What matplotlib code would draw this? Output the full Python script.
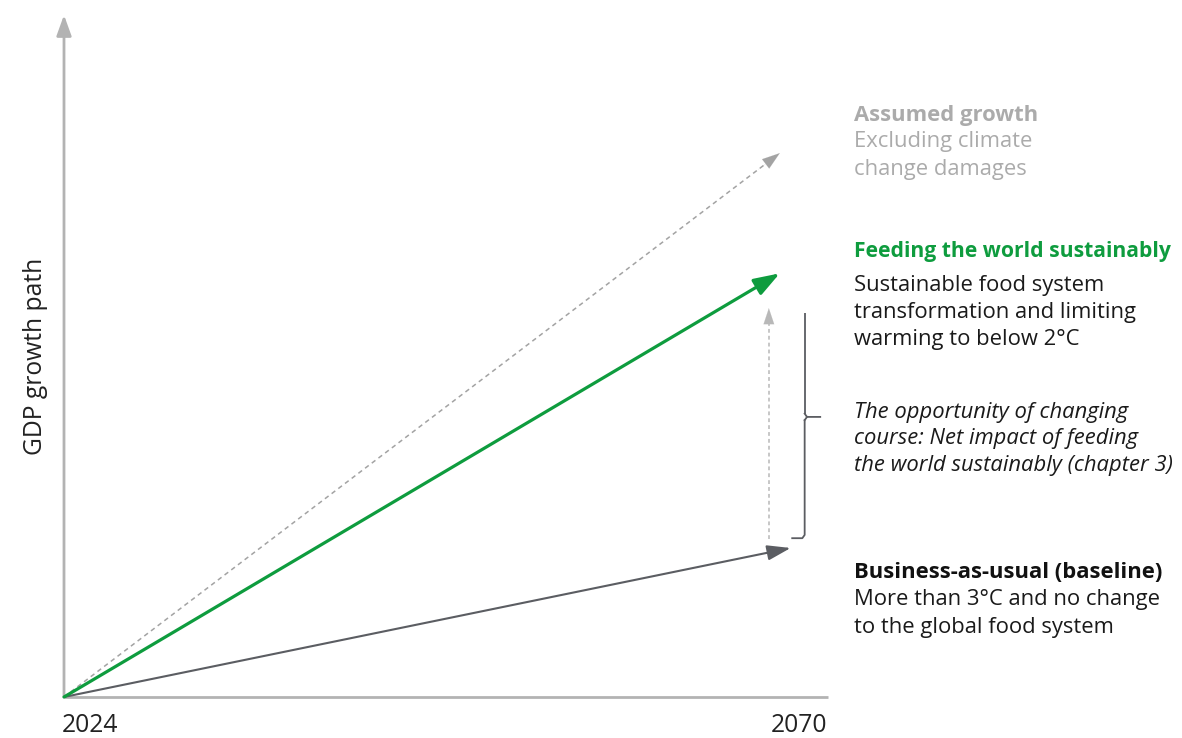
import matplotlib
matplotlib.use("Agg")
import matplotlib.pyplot as plt

plt.rcParams['font.family'] = ['Open Sans', 'DejaVu Sans']

# ---- data (schematic GDP index, 2024 = 0) ----
years = [2024, 2070]
assumed = [0, 100.0]
sustainable = [0, 77.9]
baseline = [0, 27.4]
gap_low, gap_high = 29.0, 71.5          # net-impact arrow span
bracket_low, bracket_mid, bracket_high = 29.2, 51.5, 70.6  # bracket span
gap_year = 2069.3
bracket_year = 2071.6
xmax, ymax = 2073.1, 125.4

W, H = 1182, 738
fig = plt.figure(figsize=(W / 100, H / 100), dpi=100)
ax = fig.add_axes([64 / W, (H - 697) / H, (828 - 64) / W, (697 - 15) / H])
ax.set_xlim(years[0], xmax)
ax.set_ylim(0, ymax)
ax.axis('off')

GREEN = '#0e9c3e'
DARK = '#5b5d62'
LIGHT = '#a3a3a3'
LIGHTER = '#b8b8b8'
AXIS = '#b3b3b3'

# axes lines
ax.plot([years[0], xmax], [0, 0], color=AXIS, lw=2.0, solid_capstyle='butt', clip_on=False, zorder=1)
ax.annotate('', xy=(years[0], ymax), xytext=(years[0], 0),
            arrowprops=dict(arrowstyle='-|>,head_length=1.25,head_width=0.45', color=AXIS, lw=2.0,
                            shrinkA=0, shrinkB=0, mutation_scale=10), annotation_clip=False, zorder=1)

def dashed_arrow(x0, y0, x1, y1, color, lw, dash=(3, 2.5), ms=9.5):
    ax.plot([x0, x1 - (x1 - x0) * 0.02], [y0, y1 - (y1 - y0) * 0.02], color=color, lw=lw,
            ls=(0, dash), clip_on=False, zorder=2)
    ax.annotate('', xy=(x1, y1), xytext=(x1 - (x1 - x0) * 0.03, y1 - (y1 - y0) * 0.03),
                arrowprops=dict(arrowstyle='-|>,head_length=1.2,head_width=0.4', color=color, lw=0.1,
                                shrinkA=0, shrinkB=0, mutation_scale=ms), annotation_clip=False, zorder=2)

# assumed growth (dashed)
dashed_arrow(years[0], assumed[0], years[1], assumed[1], LIGHT, 1.1, ms=10.5)

# baseline
ax.annotate('', xy=(years[1] + 0.7, baseline[1]), xytext=(years[0], baseline[0]),
            arrowprops=dict(arrowstyle='-|>,head_length=1.3,head_width=0.42', color=DARK, lw=1.5,
                            shrinkA=0, shrinkB=0, mutation_scale=11), annotation_clip=False, zorder=3)

# sustainable (green)
ax.annotate('', xy=(years[1], sustainable[1]), xytext=(years[0], sustainable[0]),
            arrowprops=dict(arrowstyle='-|>,head_length=1.3,head_width=0.45', color=GREEN, lw=2.3,
                            shrinkA=0, shrinkB=0, mutation_scale=12), annotation_clip=False, zorder=4)

# vertical dashed arrow (net impact)
dashed_arrow(gap_year, gap_low, gap_year, gap_high, LIGHTER, 1.1, dash=(2.5, 2))

# bracket
bx = bracket_year
mid = bracket_mid
ax.plot([bx, bx], [bracket_high, mid + 0.6], color=DARK, lw=1.3, clip_on=False, solid_capstyle='butt')
ax.plot([bx, bx + 0.15, bx + 1.0], [mid + 0.6, mid, mid], color=DARK, lw=1.3, clip_on=False)
ax.plot([bx + 0.15, bx], [mid, mid - 0.6], color=DARK, lw=1.3, clip_on=False)
ax.plot([bx, bx, bx - 0.15, bx - 0.8], [mid - 0.6, bracket_low + 0.6, bracket_low, bracket_low],
        color=DARK, lw=1.3, clip_on=False)

# text helpers
def ftext(x, y, s, **kw):
    fig.text(x / W, 1 - y / H, s, **kw)

AFS = 17.7
FS = 15.8
ftext(62, 726, '2024', fontsize=AFS, color='#222222', ha='left', va='center')
ftext(827, 726, '2070', fontsize=AFS, color='#222222', ha='right', va='center')
ftext(36, 356, 'GDP growth path', fontsize=AFS, color='#222222', ha='center', va='center', rotation=90)

X0 = 854
ftext(X0, 115, 'Assumed growth', fontsize=FS, color='#ababab', fontweight='bold', va='center')
ftext(X0, 142, 'Excluding climate', fontsize=FS, color='#ababab', va='center')
ftext(X0, 169, 'change damages', fontsize=FS, color='#ababab', va='center')

ftext(X0, 251, 'Feeding the world sustainably', fontsize=15.2, color=GREEN, fontweight='bold', va='center')
ftext(X0, 285, 'Sustainable food system', fontsize=FS, color='#1a1a1a', va='center')
ftext(X0, 312, 'transformation and limiting', fontsize=FS, color='#1a1a1a', va='center')
ftext(X0, 339, 'warming to below 2°C', fontsize=FS, color='#1a1a1a', va='center')

ftext(X0, 412, 'The opportunity of changing', fontsize=FS, color='#1a1a1a', style='italic', va='center')
ftext(X0, 439, 'course: Net impact of feeding', fontsize=FS, color='#1a1a1a', style='italic', va='center')
ftext(X0, 466, 'the world sustainably (chapter 3)', fontsize=FS, color='#1a1a1a', style='italic', va='center')

ftext(X0, 573, 'Business-as-usual (baseline)', fontsize=FS, color='#111111', fontweight='bold', va='center')
ftext(X0, 600, 'More than 3°C and no change', fontsize=FS, color='#1a1a1a', va='center')
ftext(X0, 627, 'to the global food system', fontsize=FS, color='#1a1a1a', va='center')

fig.savefig('out.png', dpi=100, facecolor='white')
